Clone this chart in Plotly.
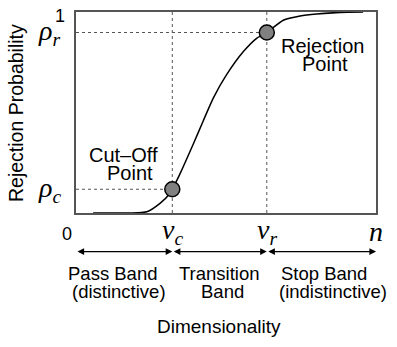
import plotly.graph_objects as go

# ---- data ----
curve_x = [0.057, 0.12, 0.18, 0.236, 0.28, 0.313, 0.321, 0.347, 0.391, 0.424, 0.458,
           0.502, 0.558, 0.602, 0.636, 0.691, 0.747, 0.802, 0.88, 0.957]
curve_y = [0.0, 0.0, 0.0, 0.006, 0.048, 0.097, 0.118, 0.196, 0.343, 0.458, 0.573,
           0.688, 0.803, 0.869, 0.898, 0.959, 0.98, 0.99, 0.998, 1.0]

nu_c, rho_c = 0.321, 0.118   # cut-off point
nu_r, rho_r = 0.636, 0.898   # rejection point
point_x = [nu_c, nu_r]
point_y = [rho_c, rho_r]

x_tick_vals = [0.0, nu_c, nu_r, 1.0]
x_tick_text = ["0", "<i>ν<sub>c</sub></i>", "<i>ν<sub>r</sub></i>", "<i>n</i>"]
y_tick_vals = [rho_c, rho_r]
y_tick_text = ["<i>ρ<sub>c</sub></i>", "<i>ρ<sub>r</sub></i>"]

band_edges = [0.0, nu_c, nu_r, 1.0]
band_line1 = ["Pass Band", "Transition", "Stop Band"]
band_line2 = ["(distinctive)", "Band", "(indistinctive)"]
band_centers1 = [0.123, 0.477, 0.827]
band_centers2 = [0.143, 0.487, 0.857]

SANS = "Liberation Sans, Arial, sans-serif"
SERIF = "Liberation Serif, Times New Roman, serif"

W, H = 397, 347
L, R, T, B = 76, 21, 10, 134
pw = W - L - R
ph = H - T - B


def py(pix):
    """pixel y (from top of the page) -> paper y."""
    return (H - B - pix) / ph


def label(x, y, text, family=SANS, size=18, **kw):
    d = dict(x=x, y=y, xref="paper", yref="paper", text=text, showarrow=False,
             xanchor="center", yanchor="middle",
             font=dict(family=family, size=size, color="black"))
    d.update(kw)
    return d


fig = go.Figure()

fig.add_trace(go.Scatter(x=curve_x, y=curve_y, mode="lines",
                         line=dict(color="black", width=1.5, shape="spline", smoothing=0.6),
                         hoverinfo="skip"))
fig.add_trace(go.Scatter(x=point_x, y=point_y, mode="markers", cliponaxis=False,
                         marker=dict(size=15, color="#808080",
                                     line=dict(color="black", width=1.5)),
                         hoverinfo="skip"))

shapes = []
for xv in [nu_c, nu_r]:
    shapes.append(dict(type="line", xref="x", yref="y", x0=xv, x1=xv, y0=0, y1=1,
                       line=dict(color="#555", width=1, dash="dot"), layer="below"))
for xv, yv in zip(point_x, point_y):
    shapes.append(dict(type="line", xref="x", yref="y", x0=0, x1=xv, y0=yv, y1=yv,
                       line=dict(color="#555", width=1, dash="dot"), layer="below"))

ann = []
# x tick labels (x axis range is [0, 1], so paper x == data x)
for xv, txt in zip(x_tick_vals, x_tick_text):
    if txt == "0":
        ann.append(label(xv - 0.03, py(234), txt, SANS, 18))
    else:
        ann.append(label(xv, py(232), txt, SERIF, 28))
# y tick labels
for yv, txt in zip(y_tick_vals, y_tick_text):
    ann.append(label(-0.09, yv, txt, SERIF, 28))
ann.append(label(-0.053, py(14), "1", SANS, 18))

# point labels
ann.append(label(0.823, py(44), "Rejection", SANS, 20))
ann.append(label(0.83, py(63), "Point", SANS, 20))
ann.append(label(0.157, py(154), "Cut–Off", SANS, 20))
ann.append(label(0.18, py(173), "Point", SANS, 20))

# double-headed arrows
for x0, x1 in zip(band_edges[:-1], band_edges[1:]):
    ann.append(dict(x=x1, y=py(252), xref="paper", yref="paper",
                    ax=-(x1 - x0) * pw, ay=0, axref="pixel", ayref="pixel",
                    text="", showarrow=True,
                    arrowhead=2, arrowside="end+start", arrowsize=1.1,
                    arrowwidth=1.2, arrowcolor="black", standoff=0, startstandoff=0))

# band labels
for xc, txt in zip(band_centers1, band_line1):
    ann.append(label(xc, py(274), txt, SANS, 18.5))
for xc, txt in zip(band_centers2, band_line2):
    ann.append(label(xc, py(292), txt, SANS, 18.5))

ann.append(label(0.477, py(328), "Dimensionality", SANS, 19))
ann.append(label(-0.2, py(112), "Rejection Probability", SANS, 19.5, textangle=-90))

fig.update_layout(
    width=W, height=H,
    margin=dict(l=L, r=R, t=T, b=B),
    paper_bgcolor="white", plot_bgcolor="white",
    showlegend=False,
    shapes=shapes, annotations=ann,
    xaxis=dict(range=[0, 1], showgrid=False, zeroline=False, showticklabels=False,
               ticks="", showline=True, mirror=True, linecolor="#555", linewidth=1.5),
    yaxis=dict(range=[0, 1], showgrid=False, zeroline=False, showticklabels=False,
               ticks="", showline=True, mirror=True, linecolor="#555", linewidth=1.5),
)

fig.write_html("out.html")
